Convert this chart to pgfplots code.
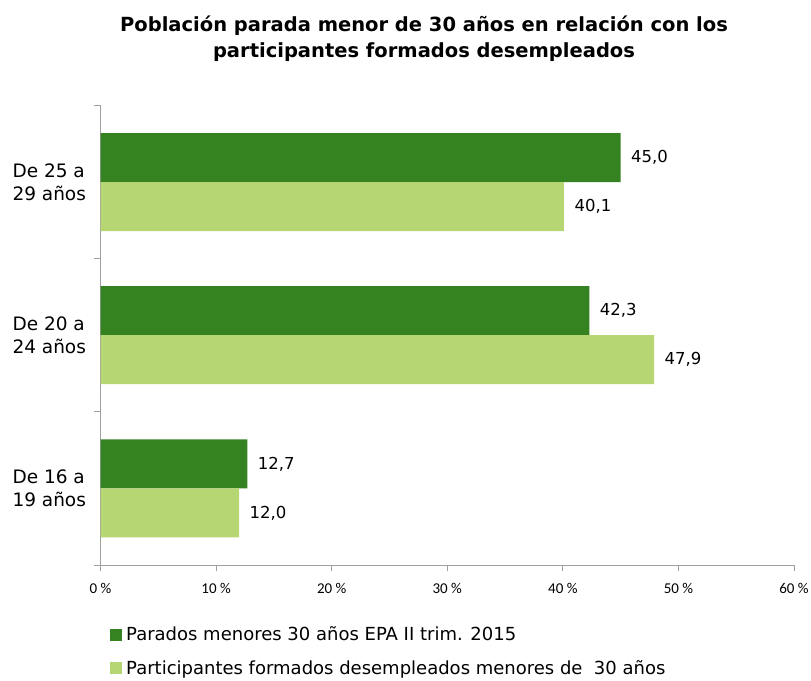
\documentclass[border=0pt]{standalone}
\usepackage{fontspec}
\setmainfont{DejaVu Sans}
\newfontfamily\tickfont{Carlito}
\usepackage{pgfplots}
\pgfplotsset{compat=1.18}
\definecolor{darkg}{RGB}{53,130,32}
\definecolor{lightg}{RGB}{181,214,114}
\definecolor{axgray}{RGB}{160,160,160}

\begin{document}
\begin{tikzpicture}[x=1pt,y=1pt]
\path[use as bounding box] (0,0) rectangle (811,680);
\node[font=\bfseries\fontsize{19.5}{26}\selectfont, align=center] at (424,641)
  {Población parada menor de 30 años en relación con los\\participantes formados desempleados};
\begin{axis}[
  at={(100.5pt,115pt)}, anchor=south west,
  scale only axis, width=693.5pt, height=459.5pt,
  xmin=0, xmax=60, ymin=-0.5, ymax=2.5,
  axis lines=left,
  axis line style={-, draw=axgray, line width=1pt},
  tick align=outside, major tick length=6pt,
  tick style={draw=axgray, line width=1pt},
  xtick={0,10,20,30,40,50,60},
  xticklabels={0 \%,10 \%,20 \%,30 \%,40 \%,50 \%,60 \%},
  xticklabel style={font=\tickfont\fontsize{15}{17}\selectfont, yshift=-9pt},
  ytick={-0.5,0.5,1.5,2.5}, yticklabels={},
  extra y ticks={0,1,2},
  extra y tick labels={{De 16 a\\19 años},{De 20 a\\24 años},{De 25 a\\29 años}},
  extra y tick style={major tick length=0pt,
    yticklabel style={align=left, font=\fontsize{18.5}{23}\selectfont, xshift=-11pt}},
  xbar, bar width=49pt,
  nodes near coords,
  nodes near coords style={font=\fontsize{16.5}{20}\selectfont,
    /pgf/number format/fixed, /pgf/number format/fixed zerofill,
    /pgf/number format/precision=1, /pgf/number format/use comma,
    /pgf/number format/assume math mode=true, xshift=7pt},
  legend style={at={(0.0137,-0.13)}, anchor=north west, draw=none,
    font=\fontsize{18}{21}\selectfont, row sep=14pt, inner sep=0pt},
  legend cell align=left,
  legend image code/.code={\fill[#1] (0pt,-6pt) rectangle (12pt,6pt); \path (14pt,0pt);},
]
\addplot[fill=darkg, draw=none, bar shift=24.5pt]
  coordinates {(12.7,0) (42.3,1) (45.0,2)};
\addplot[fill=lightg, draw=none, bar shift=-24.5pt]
  coordinates {(12.0,0) (47.9,1) (40.1,2)};
\legend{Parados menores 30 años EPA II trim. 2015,
  Participantes formados desempleados menores de\ \ 30 años}
\end{axis}
\end{tikzpicture}
\end{document}
